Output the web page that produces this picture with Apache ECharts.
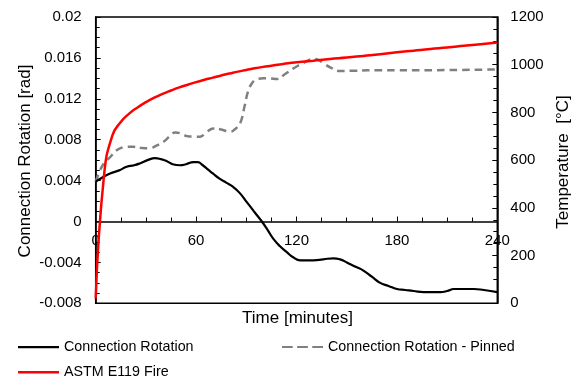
<!DOCTYPE html>
<html>
<head>
<meta charset="utf-8">
<script src="https://cdn.jsdelivr.net/npm/echarts@6/dist/echarts.min.js"></script>
<style>
html,body{margin:0;padding:0;background:#fff;}
#chart{width:571px;height:383px;}
</style>
</head>
<body>
<div id="chart"></div>
<script>
// ---- Data ----
var rotTime = [0,4,8.6,14,18.5,23,26.7,31,35.5,39,42.5,46,50.4,54,58.4,61,64,67,70,74,78,82,86,90.3,95,99.3,103,106.2,110,114.2,118,122.2,126,130.1,136,142.1,146,150.1,155,160,165,170,175,180,185,190,196,202,206,210,214,218,222,226,232,240];
var rotValue = [0.0039,0.0043,0.0047,0.0050,0.00535,0.0055,0.0057,0.0060,0.0062,0.0061,0.0059,0.0056,0.0055,0.0056,0.0058,0.0058,0.0055,0.0051,0.0047,0.0042,0.0038,0.0034,0.0028,0.0019,0.0009,0,-0.0009,-0.0017,-0.0024,-0.0030,-0.0035,-0.0038,-0.0038,-0.0038,-0.0037,-0.0036,-0.0037,-0.0040,-0.0044,-0.0048,-0.0054,-0.0060,-0.0063,-0.0066,-0.0067,-0.0068,-0.0069,-0.0069,-0.0069,-0.0068,-0.0066,-0.0066,-0.0066,-0.0066,-0.0067,-0.0069];

var pinTime = [0,2.6,5,8.6,12,14.5,18,22.5,27,32.5,36,40.5,44,47.5,51,54.5,58.4,62.4,66,70.4,75,80.3,83,86.3,89,91,93.3,96,100.3,104,108.3,113,118.2,124,130.1,133,136.1,141,146.1,155,170,200,240];
var pinValue = [0.0039,0.0050,0.0057,0.0063,0.0069,0.00715,0.0073,0.0073,0.0072,0.00715,0.0074,0.0078,0.0083,0.0087,0.0086,0.00835,0.0083,0.0083,0.0087,0.0091,0.0090,0.00877,0.0090,0.0096,0.0113,0.0127,0.0135,0.0139,0.0140,0.0140,0.01393,0.0144,0.01498,0.0155,0.01589,0.0158,0.01547,0.0150,0.01471,0.01475,0.0148,0.0148,0.01488];

var fireTime = [0,5,10,15,20,25,30,35,40,45,50,55,60,65,70,75,80,85,90,95,100,105,110,115,120,130,140,150,160,170,180,190,200,210,220,230,240];
var fireTemp = [20,538,704,760,795,821,843,862,878,892,905,916,927,937,946,955,963,971,978,985,991,996,1001,1006,1010,1017,1024,1030,1037,1044,1052,1059,1066,1072,1079,1086,1093];

var xTicks = {min:0, max:240, interval:60};
var yLeft = {min:-0.008, max:0.02, interval:0.004};
var yRight = {min:0, max:1200, interval:200};

var names = ['Connection Rotation','Connection Rotation - Pinned','ASTM E119 Fire'];
var axisTitles = {x:'Time [minutes]', yl:'Connection Rotation [rad]', yr:'Temperature  [°C]'};

function pairs(xs, ys){ return xs.map(function(x,i){ return [x, ys[i]]; }); }

var FONT = 'Liberation Sans, Arial, sans-serif';
var W = 571, H = 383;
var grid = {left:95.7, right:73.7, top:17, bottom:79.7};
var gridH = H - grid.top - grid.bottom;
// place the time axis where the left value axis crosses zero
var xAxisOffset = -((0 - yLeft.min) / (yLeft.max - yLeft.min)) * gridH;

var chart = echarts.init(document.getElementById('chart'), null, {renderer:'canvas'});

var ICON_SOLID = 'rect';
var ICON_DASH = 'path://M0,0h11v2h-11z M15.5,0h11v2h-11z M31,0h11v2h-11z';

var legendBase = function(name, left, top, icon, h){
  return {
    data:[{name:name, icon:icon}], left:left, top:top, padding:0, itemWidth:41, itemHeight:h,
    textStyle:{color:'#000', fontSize:14.3, fontFamily:FONT},
    selectedMode:false
  };
};

chart.setOption({
  animation:false,
  backgroundColor:'#fff',
  grid:{left:grid.left, right:grid.right, top:grid.top, bottom:grid.bottom, containLabel:false, outerBoundsMode:'none',
        show:true, borderColor:'#000', borderWidth:1.5, backgroundColor:'transparent'},
  legend:[legendBase(names[0],18,340.2,ICON_SOLID,2.2), legendBase(names[1],282,340.1,ICON_DASH,2.4), legendBase(names[2],18,365.2,ICON_SOLID,2.4)],
  xAxis:{
    type:'value', position:'bottom', offset:xAxisOffset, min:xTicks.min, max:xTicks.max, interval:xTicks.interval,
    axisLine:{show:true, onZero:false, lineStyle:{color:'#000', width:1.5}},
    axisTick:{show:true, inside:true, length:5, lineStyle:{color:'#000', width:1}},
    minorTick:{show:true, splitNumber:4, length:4, lineStyle:{color:'#000', width:1}},
    axisLabel:{color:'#000', fontSize:15, fontFamily:FONT, margin:12, showMinLabel:true, showMaxLabel:true},
    splitLine:{show:false}
  },
  yAxis:[{
    type:'value', position:'left', min:yLeft.min, max:yLeft.max, interval:yLeft.interval,
    axisLine:{show:true, onZero:false, lineStyle:{color:'#000', width:1.5}},
    axisTick:{show:true, inside:true, length:5, lineStyle:{color:'#000', width:1}},
    minorTick:{show:true, splitNumber:4, length:4, lineStyle:{color:'#000', width:1}},
    axisLabel:{color:'#000', fontSize:15, fontFamily:FONT, margin:14, showMinLabel:true, showMaxLabel:true,
      formatter:function(v){ return String(Math.round(v*1000)/1000); }},
    splitLine:{show:false}
  },{
    type:'value', position:'right', min:yRight.min, max:yRight.max, interval:yRight.interval,
    axisLine:{show:true, onZero:false, lineStyle:{color:'#000', width:1.5}},
    axisTick:{show:true, inside:true, length:5, lineStyle:{color:'#000', width:1}},
    minorTick:{show:true, splitNumber:4, length:4, lineStyle:{color:'#000', width:1}},
    axisLabel:{color:'#000', fontSize:15, fontFamily:FONT, margin:13, showMinLabel:true, showMaxLabel:true,
      formatter:function(v){ return String(v); }},
    splitLine:{show:false}
  }],
  graphic:[
    {type:'text', x:25, y:161, rotation:Math.PI/2, style:{text:axisTitles.yl, fill:'#000', fontSize:17, fontFamily:FONT, align:'center', verticalAlign:'middle'}},
    {type:'text', x:563, y:162, rotation:Math.PI/2, style:{text:axisTitles.yr, fill:'#000', fontSize:17, fontFamily:FONT, align:'center', verticalAlign:'middle'}},
    {type:'text', x:297.5, y:318.5, style:{text:axisTitles.x, fill:'#000', fontSize:17, fontFamily:FONT, align:'center', verticalAlign:'middle'}}
  ],
  series:[{
    name:names[0], type:'line', yAxisIndex:0, data:pairs(rotTime, rotValue),
    symbol:'none', smooth:0.5, color:'#000', lineStyle:{color:'#000', width:2.2}, z:3
  },{
    name:names[1], type:'line', yAxisIndex:0, data:pairs(pinTime, pinValue),
    symbol:'none', smooth:0.45, color:'#808080', lineStyle:{color:'#808080', width:2.5, type:[7.5,5]}, z:2
  },{
    name:names[2], type:'line', yAxisIndex:1, data:pairs(fireTime, fireTemp),
    symbol:'none', smooth:0.5, color:'#ff0000', lineStyle:{color:'#ff0000', width:2.5}, z:4
  }]
});
</script>
</body>
</html>
